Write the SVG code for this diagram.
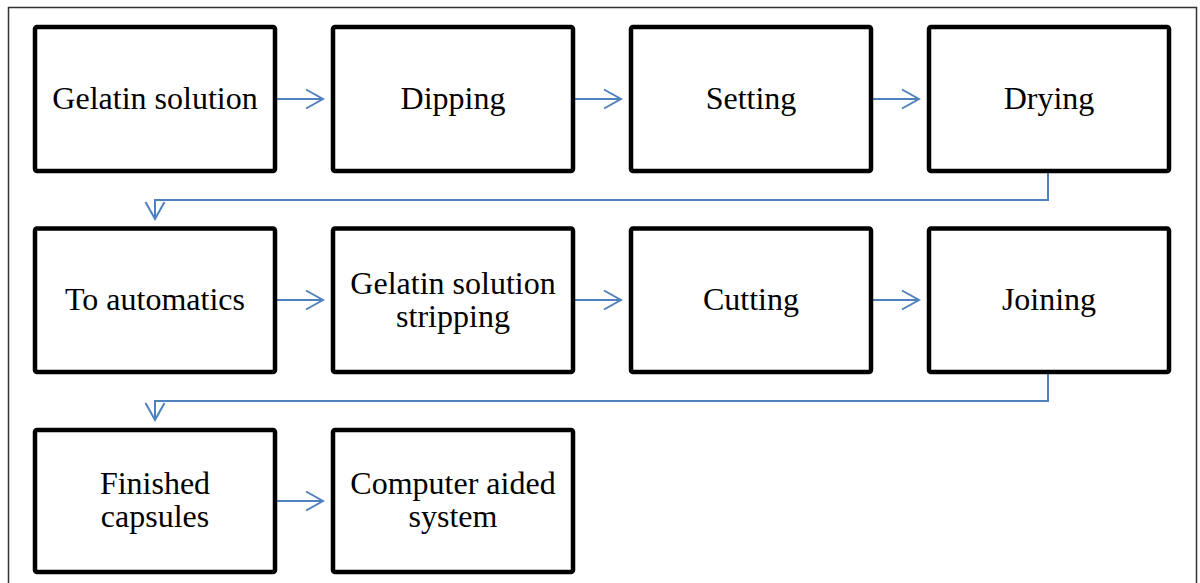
<svg xmlns="http://www.w3.org/2000/svg" width="1200" height="583" viewBox="0 0 1200 583">
<defs>
<style>
.box{fill:#fff;stroke:#000;stroke-width:4.5;}
.lbl{font-family:"Liberation Serif","Times New Roman",serif;font-size:32px;fill:#000;text-anchor:middle;}
.conn{fill:none;stroke:#4F81BD;stroke-width:2;}
</style>
<marker id="arr" markerUnits="userSpaceOnUse" viewBox="0 0 22 22" markerWidth="22" markerHeight="22" refX="20" refY="11" orient="auto">
<path d="M3,1.5 L20,11 L3,20.5" fill="none" stroke="#4F81BD" stroke-width="2"/>
</marker>
</defs>
<rect x="0" y="0" width="1200" height="583" fill="#fff"/>
<rect x="8.5" y="7.5" width="1188" height="600" fill="none" stroke="#333" stroke-width="1.5"/>
<g id="connectors">
<line class="conn" x1="277" y1="99" x2="323" y2="99" marker-end="url(#arr)"/>
<line class="conn" x1="575" y1="99" x2="621" y2="99" marker-end="url(#arr)"/>
<line class="conn" x1="873" y1="99" x2="919" y2="99" marker-end="url(#arr)"/>
<polyline class="conn" points="1048,173 1048,200 155,200 155,219" marker-end="url(#arr)"/>
<line class="conn" x1="277" y1="300" x2="323" y2="300" marker-end="url(#arr)"/>
<line class="conn" x1="575" y1="300" x2="621" y2="300" marker-end="url(#arr)"/>
<line class="conn" x1="873" y1="300" x2="919" y2="300" marker-end="url(#arr)"/>
<polyline class="conn" points="1048,374 1048,401 155,401 155,420" marker-end="url(#arr)"/>
<line class="conn" x1="277" y1="501" x2="323" y2="501" marker-end="url(#arr)"/>
</g>
<g id="n1"><rect class="box" x="35" y="27" width="240" height="144" rx="2"/><text class="lbl" x="155" y="109">Gelatin solution</text></g>
<g id="n2"><rect class="box" x="333" y="27" width="240" height="144" rx="2"/><text class="lbl" x="453" y="109">Dipping</text></g>
<g id="n3"><rect class="box" x="631" y="27" width="240" height="144" rx="2"/><text class="lbl" x="751" y="109">Setting</text></g>
<g id="n4"><rect class="box" x="929" y="27" width="240" height="144" rx="2"/><text class="lbl" x="1049" y="109">Drying</text></g>
<g id="n5"><rect class="box" x="35" y="228.5" width="240" height="143.5" rx="2"/><text class="lbl" x="155" y="310">To automatics</text></g>
<g id="n6"><rect class="box" x="333" y="228.5" width="240" height="143.5" rx="2"/><text class="lbl" x="453" y="294">Gelatin solution</text><text class="lbl" x="453" y="327">stripping</text></g>
<g id="n7"><rect class="box" x="631" y="228.5" width="240" height="143.5" rx="2"/><text class="lbl" x="751" y="310">Cutting</text></g>
<g id="n8"><rect class="box" x="929" y="228.5" width="240" height="143.5" rx="2"/><text class="lbl" x="1049" y="310">Joining</text></g>
<g id="n9"><rect class="box" x="35" y="430" width="240" height="142" rx="2"/><text class="lbl" x="155" y="494">Finished</text><text class="lbl" x="155" y="527">capsules</text></g>
<g id="n10"><rect class="box" x="333" y="430" width="240" height="142" rx="2"/><text class="lbl" x="453" y="494">Computer aided</text><text class="lbl" x="453" y="527">system</text></g>
</svg>
